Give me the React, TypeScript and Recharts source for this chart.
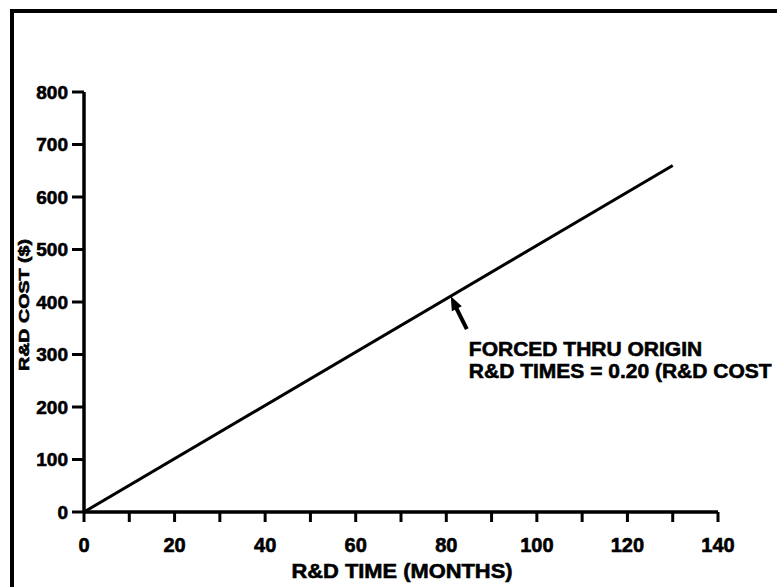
import React from "react";
import { Label, Line, LineChart, ReferenceDot, XAxis, YAxis } from "recharts";

const INK = "#000";
const FONT = "'Liberation Sans', Arial, Helvetica, sans-serif";

// fitted line, forced through the origin
const months = [0, 130];
const cost = [0, 660];

const xTicks = [0, 10, 20, 30, 40, 50, 60, 70, 80, 90, 100, 110, 120, 130, 140];
const xLabelled = [0, 20, 40, 60, 80, 100, 120, 140];
const yTicks = [0, 100, 200, 300, 400, 500, 600, 700, 800];

const noteAt = { months: 81, cost: 411 };
const noteLines = ["FORCED THRU ORIGIN", "R&D TIMES = 0.20 (R&D COST"];

const data = months.map((m, i) => ({ months: m, cost: cost[i] }));

// the scan's type is heavier than a plain bold face
const heavy = { stroke: INK, strokeWidth: 0.6 };

function YTitle({ viewBox }: any) {
  const x = viewBox.x + 23;
  const y = viewBox.y + viewBox.height / 2 + 3;
  return (
    <text
      x={x}
      y={y}
      transform={`rotate(-90 ${x} ${y})`}
      textAnchor="middle"
      dominantBaseline="central"
      fontFamily={FONT}
      fontWeight={700}
      fontSize={15}
      textLength={132}
      lengthAdjust="spacingAndGlyphs"
      fill={INK}
      {...heavy}
    >
      R&amp;D COST ($)
    </text>
  );
}

function XTitle({ viewBox }: any) {
  const x = viewBox.x + viewBox.width / 2 + 1;
  const y = viewBox.y + 66;
  return (
    <text
      x={x}
      y={y}
      textAnchor="middle"
      fontFamily={FONT}
      fontWeight={700}
      fontSize={21}
      textLength={221}
      lengthAdjust="spacingAndGlyphs"
      fill={INK}
      {...heavy}
    >
      R&amp;D TIME (MONTHS)
    </text>
  );
}

// arrow pointing at the line, with the note below it
function Note({ cx, cy }: any) {
  const tx = cx + 16;
  const ty = cy + 33;
  return (
    <g>
      <line x1={tx} y1={ty} x2={cx + 5} y2={cy + 11} stroke={INK} strokeWidth={4} />
      <polygon
        points={`${cx},${cy} ${cx + 11},${cy + 10} ${cx + 1},${cy + 15}`}
        fill={INK}
      />
      {noteLines.map((s, i) => (
        <text
          key={s}
          x={cx + 18}
          y={cy + 60 + i * 22}
          fontFamily={FONT}
          fontWeight={700}
          fontSize={21}
          fill={INK}
          {...heavy}
        >
          {s}
        </text>
      ))}
    </g>
  );
}

export default function App() {
  return (
    <div
      style={{
        position: "absolute",
        left: 0,
        top: 0,
        width: 777,
        height: 587,
        overflow: "hidden",
        background: "#fff",
      }}
    >
      <div
        style={{
          position: "absolute",
          left: 10,
          top: 9,
          width: 800,
          height: 600,
          borderLeft: "4px solid #000",
          borderTop: "4px solid #000",
        }}
      />
      <LineChart
        width={777}
        height={587}
        data={data}
        margin={{ top: 92, right: 59, bottom: 0, left: 0 }}
        style={{ position: "absolute", left: 0, top: 0 }}
      >
        <XAxis
          dataKey="months"
          type="number"
          domain={[0, 140]}
          ticks={xTicks}
          interval={0}
          tickFormatter={(v: number) => (xLabelled.includes(v) ? String(v) : "")}
          height={75}
          tickSize={10}
          tickMargin={16}
          axisLine={{ stroke: INK, strokeWidth: 3.5 }}
          tickLine={{ stroke: INK, strokeWidth: 3 }}
          tick={{ fontSize: 20, fontWeight: 700, fill: INK, fontFamily: FONT, ...heavy }}
        >
          <Label content={<XTitle />} />
        </XAxis>
        <YAxis
          dataKey="cost"
          type="number"
          domain={[0, 800]}
          ticks={yTicks}
          interval={0}
          width={84}
          tickSize={12}
          tickMargin={4}
          axisLine={{ stroke: INK, strokeWidth: 3.5 }}
          tickLine={{ stroke: INK, strokeWidth: 3 }}
          tick={{ fontSize: 19, fontWeight: 700, fill: INK, fontFamily: FONT, ...heavy }}
        >
          <Label content={<YTitle />} />
        </YAxis>
        <Line
          type="linear"
          dataKey="cost"
          stroke={INK}
          strokeWidth={3}
          dot={false}
          activeDot={false}
          isAnimationActive={false}
        />
        <ReferenceDot
          x={noteAt.months}
          y={noteAt.cost}
          r={0}
          ifOverflow="visible"
          shape={(p: any) => <Note cx={p.cx} cy={p.cy} />}
        />
      </LineChart>
    </div>
  );
}
